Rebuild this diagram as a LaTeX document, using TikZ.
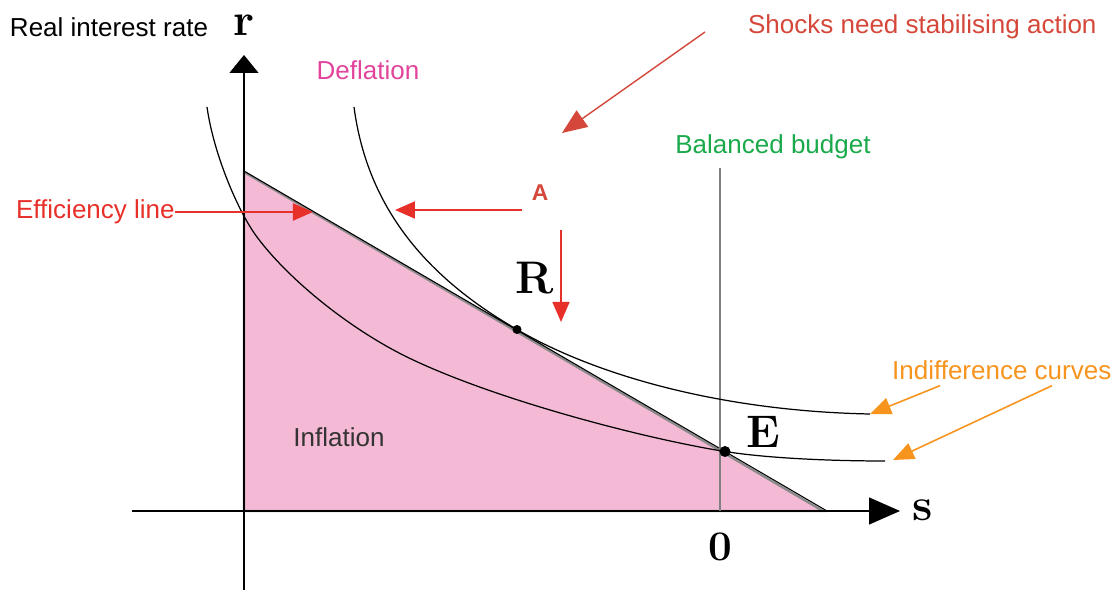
\documentclass[tikz,border=0pt]{standalone}
\usepackage{fontspec}
\newfontfamily\arialfont{Liberation Sans}
\usepackage{tikz}
\usetikzlibrary{arrows.meta,positioning,calc}
\definecolor{infpink}{HTML}{F4B9D4}
\definecolor{arrred}{HTML}{E8302A}
\definecolor{shockred}{HTML}{D4473A}
\definecolor{defmag}{HTML}{E2449B}
\definecolor{budgreen}{HTML}{1AAA4B}
\definecolor{indorange}{HTML}{F7941D}
\definecolor{edgegray}{HTML}{8A8A8A}
\tikzset{
  lbl/.style={font=\arialfont\fontsize{14.8}{17}\selectfont,inner sep=1pt},
  biglbl/.style={font=\bfseries\fontsize{26}{28}\selectfont,inner sep=0pt},
  axisline/.style={line width=0.8pt},
  icurve/.style={line width=0.7pt},
  redarrow/.style={arrred,line width=1.2pt,-{Triangle[length=0.4cm,width=0.34cm]}},
  orangearrow/.style={indorange,line width=0.9pt,-{Triangle[length=0.42cm,width=0.34cm]}}
}

\begin{document}
\begin{tikzpicture}[>=Latex]
\useasboundingbox (-4.88,-1.58) rectangle (17.36,10.22);
% inflation region below the efficiency line
\coordinate (top) at (0,6.78);
\coordinate (bot) at (11.58,0);
\fill[infpink] (0,0) -- (top) -- (bot) -- cycle;
\draw[edgegray,line width=1.3pt] (0,0) -- (top) -- (bot) -- cycle;
\draw[line width=0.6pt] (0,6.8) -- (11.66,0);

% axes
\draw[axisline,-{Triangle[length=0.36cm,width=0.58cm]}] (0,-1.58) -- (0,9.12);
\draw[axisline,-{Triangle[length=0.62cm,width=0.54cm]}] (-2.24,0) -- (13.12,0);
\node[lbl] (rirate) at (-2.7,9.68) {Real interest rate};
\node[biglbl] (rax) at (0,9.72) {r};
\node[biglbl] (sax) at (13.58,0.02) {s};
\node[biglbl,font=\bfseries\fontsize{24}{26}\selectfont] (zero) at (9.52,-0.72) {0};

% balanced budget
\node[lbl,text=budgreen] (bb) at (10.58,7.28) {Balanced budget};
\coordinate (bbtop) at (9.52,6.86);
\draw[gray,line width=0.7pt] (9.52,0) -- (bbtop);

% indifference curves
\coordinate (R) at (5.46,3.63);
\coordinate (E) at (9.62,1.19);
\coordinate (upend) at (12.52,1.94);
\coordinate (lowend) at (12.82,1.0);
\draw[icurve] (-0.74,8.08) .. controls (-0.6,7.1) and (-0.1,5.96) .. (0.26,5.48)
  .. controls (0.86,4.67) and (2.06,3.67) .. (3.26,3.08)
  .. controls (5.0,2.23) and (8.0,1.45) .. (E)
  .. controls (10.5,1.05) and (11.8,1.0) .. (lowend);
\draw[icurve] (2.2,8.08) .. controls (2.45,6.2) and (3.5,4.76) .. (R)
  .. controls (7.0,2.73) and (9.5,2.0) .. (upend);
\fill (R) circle (0.09);
\fill (E) circle (0.11);
\node[biglbl] (rlab) at (5.82,4.66) {R};
\node[biglbl] (elab) at (10.38,1.58) {E};

% region labels
\node[lbl,text=defmag] (defl) at (2.48,8.82) {Deflation};
\node[lbl,text=black!80] (infl) at (1.9,1.48) {Inflation};

% efficiency line
\node[lbl,text=arrred,anchor=east,inner sep=0pt] (effl) at (-1.38,5.98) {Efficiency line};
\coordinate (efftip) at (1.38,5.98);
\draw[redarrow] (effl.east) -- (efftip);

% point A and its moves
\node[font=\arialfont\bfseries\fontsize{13}{15}\selectfont,text=shockred] (alab) at (5.92,6.36) {A};
\coordinate (atail) at (5.56,6.02);
\coordinate (atip) at (3.02,6.02);
\draw[redarrow] (atail) -- (atip);
\coordinate (dtail) at (6.34,5.62);
\coordinate (dtip) at (6.34,3.78);
\draw[redarrow,line width=0.8pt] (dtail) -- (dtip);

% shocks
\node[lbl,text=shockred,anchor=west] (shock) at (10.04,9.68) {Shocks need stabilising action};
\coordinate (shtip) at (6.36,7.56);
\draw[shockred,line width=0.8pt,-{Triangle[length=0.5cm,width=0.4cm]}] ($(shock.west)+(-0.82,-0.1)$) -- (shtip);

% indifference curve labels
\node[lbl,text=indorange,anchor=west] (indc) at (12.92,2.82) {Indifference curves};
\draw[orangearrow] ($(indc.south west)+(1.0,-0.08)$) -- (upend);
\draw[orangearrow] ($(indc.south west)+(3.24,-0.08)$) -- ($(lowend)+(0.16,0.02)$);
\end{tikzpicture}
\end{document}
